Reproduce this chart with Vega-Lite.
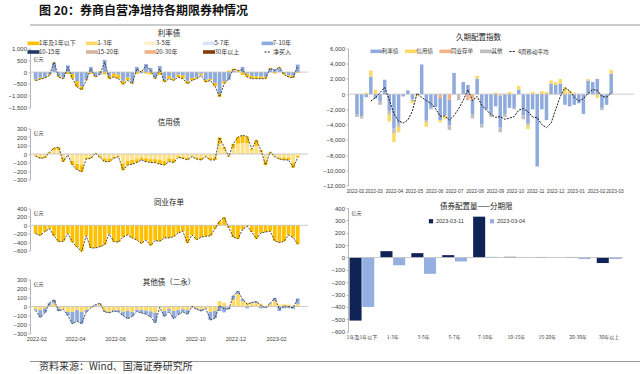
{
"$schema": "https://vega.github.io/schema/vega-lite/v6.json",
"background": "white",
"padding": {"left": 3, "top": 5, "right": 3, "bottom": 0},
"spacing": 3.5,
"config": {
 "font": "Noto Sans CJK SC",
 "view": {"stroke": null},
 "axis": {"labelFont": "Liberation Sans", "labelFontSize": 6, "labelColor": "#404040", "domainColor": "#a6a6a6", "domainWidth": 0.8, "tickColor": "#a6a6a6", "tickSize": 2, "tickWidth": 0.8, "grid": false, "labelPadding": 1.5, "titleFont": "Noto Sans CJK SC", "titleFontSize": 5, "titleFontWeight": "normal", "titleColor": "#404040"},
 "title": {"font": "Noto Sans CJK SC", "fontSize": 7.5, "fontWeight": "normal", "color": "#1a1a1a", "frame": "group"},
 "legend": {"labelFont": "Noto Sans CJK SC", "labelColor": "#333333", "padding": 0}
},
"datasets": {
 "w": [
  {"d":"2022-01-31","1年及1年以下":-50,"7-10年":-310,"rn":-360,"c1":-10,"c3":-15,"cn":-25,"n":-200,"oy":-30,"ob":-14,"on":-44},
  {"d":"2022-02-07","1年及1年以下":-60,"7-10年":-240,"rn":-300,"c1":-20,"c3":-30,"cn":-50,"n":-240,"oy":-40,"ob":-80,"on":-120},
  {"d":"2022-02-14","1年及1年以下":-40,"7-10年":-210,"rn":-250,"c1":-20,"c3":-25,"cn":-45,"n":-150,"oy":-20,"ob":-50,"on":-70},
  {"d":"2022-02-21","1年及1年以下":-50,"7-10年":-90,"rn":-140,"c1":10,"c3":10,"cn":20,"n":-80,"oy":10,"ob":30,"on":40},
  {"d":"2022-02-28","1年及1年以下":30,"7-10年":390,"rn":420,"c1":30,"c3":40,"cn":70,"n":-250,"oy":35,"ob":40,"on":75},
  {"d":"2022-03-07","1年及1年以下":-60,"7-10年":-150,"rn":-210,"c1":30,"c3":50,"cn":80,"n":-390,"oy":-20,"ob":-30,"on":-50},
  {"d":"2022-03-14","1年及1年以下":-50,"7-10年":-230,"rn":-280,"c1":-40,"c3":-50,"cn":-90,"n":-380,"oy":-30,"ob":0,"on":-30},
  {"d":"2022-03-21","1年及1年以下":-80,"7-10年":290,"rn":210,"c1":0,"c3":-10,"cn":-10,"n":-200,"oy":-60,"ob":-40,"on":-100},
  {"d":"2022-03-28","1年及1年以下":-200,"7-10年":-80,"rn":-280,"c1":-50,"c3":-80,"cn":-130,"n":-400,"oy":-60,"ob":-130,"on":-190},
  {"d":"2022-04-04","1年及1年以下":-250,"7-10年":-380,"rn":-630,"c1":-70,"c3":-115,"cn":-185,"n":-520,"oy":-40,"ob":-125,"on":-165},
  {"d":"2022-04-11","1年及1年以下":-150,"7-10年":-600,"rn":-750,"c1":-80,"c3":-130,"cn":-210,"n":-620,"oy":-60,"ob":-130,"on":-190},
  {"d":"2022-04-18","1年及1年以下":-40,"7-10年":-310,"rn":-350,"c1":-20,"c3":-40,"cn":-60,"n":-250,"oy":-40,"ob":-20,"on":-60},
  {"d":"2022-04-25","1年及1年以下":-80,"7-10年":220,"rn":140,"c1":-20,"c3":-30,"cn":-50,"n":-540,"oy":-15,"ob":0,"on":-15},
  {"d":"2022-05-02","1年及1年以下":-60,"7-10年":-150,"rn":-210,"c1":0,"c3":10,"cn":10,"n":-540,"oy":10,"ob":10,"on":20},
  {"d":"2022-05-09","1年及1年以下":40,"7-10年":-110,"rn":-70,"c1":-20,"c3":-20,"cn":-40,"n":-510,"oy":25,"ob":10,"on":35},
  {"d":"2022-05-16","1年及1年以下":-100,"7-10年":520,"rn":420,"c1":-40,"c3":-50,"cn":-90,"n":-460,"oy":-50,"ob":-10,"on":-60},
  {"d":"2022-05-23","1年及1年以下":-120,"7-10年":-160,"rn":-280,"c1":-40,"c3":-50,"cn":-90,"n":-210,"oy":-60,"ob":-10,"on":-70},
  {"d":"2022-05-30","1年及1年以下":-150,"7-10年":-60,"rn":-210,"c1":-20,"c3":-30,"cn":-50,"n":-390,"oy":-40,"ob":-12,"on":-52},
  {"d":"2022-06-06","1年及1年以下":-180,"7-10年":-100,"rn":-280,"c1":-10,"c3":-20,"cn":-30,"n":-400,"oy":-40,"ob":-20,"on":-60},
  {"d":"2022-06-13","1年及1年以下":-150,"7-10年":-370,"rn":-520,"c1":-80,"c3":-110,"cn":-190,"n":-280,"oy":-60,"ob":-40,"on":-100},
  {"d":"2022-06-20","1年及1年以下":-120,"7-10年":-230,"rn":-350,"c1":-50,"c3":-80,"cn":-130,"n":-230,"oy":-50,"ob":-85,"on":-135},
  {"d":"2022-06-27","1年及1年以下":-60,"7-10年":-430,"rn":-490,"c1":-50,"c3":-70,"cn":-120,"n":-300,"oy":-60,"ob":-50,"on":-110},
  {"d":"2022-07-04","1年及1年以下":-80,"7-10年":220,"rn":140,"c1":-40,"c3":-60,"cn":-100,"n":-350,"oy":-35,"ob":-20,"on":-55},
  {"d":"2022-07-11","1年及1年以下":50,"7-10年":-50,"rn":0,"c1":-30,"c3":-40,"cn":-70,"n":-430,"oy":-40,"ob":-32,"on":-72},
  {"d":"2022-07-18","1年及1年以下":-60,"7-10年":340,"rn":280,"c1":-40,"c3":-50,"cn":-90,"n":-350,"oy":-45,"ob":-40,"on":-85},
  {"d":"2022-07-25","1年及1年以下":-100,"7-10年":170,"rn":70,"c1":-40,"c3":-60,"cn":-100,"n":-480,"oy":-55,"ob":-60,"on":-115},
  {"d":"2022-08-01","1年及1年以下":-40,"7-10年":-240,"rn":-280,"c1":-40,"c3":-60,"cn":-100,"n":-360,"oy":-70,"ob":-110,"on":-180},
  {"d":"2022-08-08","1年及1年以下":-120,"7-10年":260,"rn":140,"c1":-50,"c3":-70,"cn":-120,"n":-380,"oy":-10,"ob":0,"on":-10},
  {"d":"2022-08-15","1年及1年以下":-100,"7-10年":-320,"rn":-420,"c1":-50,"c3":-80,"cn":-130,"n":-300,"oy":-50,"ob":-60,"on":-110},
  {"d":"2022-08-22","1年及1年以下":-120,"7-10年":-160,"rn":-280,"c1":-40,"c3":-50,"cn":-90,"n":-300,"oy":-30,"ob":-25,"on":-55},
  {"d":"2022-08-29","1年及1年以下":-80,"7-10年":-270,"rn":-350,"c1":-40,"c3":-60,"cn":-100,"n":-270,"oy":-50,"ob":-83,"on":-133},
  {"d":"2022-09-05","1年及1年以下":-100,"7-10年":-110,"rn":-210,"c1":-20,"c3":-20,"cn":-40,"n":-180,"oy":-40,"ob":-50,"on":-90},
  {"d":"2022-09-12","1年及1年以下":-150,"7-10年":-130,"rn":-280,"c1":-20,"c3":-30,"cn":-50,"n":-140,"oy":-30,"ob":-30,"on":-60},
  {"d":"2022-09-19","1年及1年以下":-120,"7-10年":-370,"rn":-490,"c1":-30,"c3":-40,"cn":-70,"n":-420,"oy":-40,"ob":-45,"on":-85},
  {"d":"2022-09-26","1年及1年以下":-100,"7-10年":-250,"rn":-350,"c1":-10,"c3":-20,"cn":-30,"n":-230,"oy":10,"ob":-10,"on":0},
  {"d":"2022-10-03","1年及1年以下":-60,"7-10年":-220,"rn":-280,"c1":-20,"c3":-40,"cn":-60,"n":-340,"oy":-20,"ob":-10,"on":-30},
  {"d":"2022-10-10","1年及1年以下":-80,"7-10年":-60,"rn":-140,"c1":-30,"c3":-40,"cn":-70,"n":-280,"oy":-30,"ob":-20,"on":-50},
  {"d":"2022-10-17","1年及1年以下":-100,"7-10年":-320,"rn":-420,"c1":-10,"c3":-20,"cn":-30,"n":-260,"oy":-20,"ob":0,"on":-20},
  {"d":"2022-10-24","1年及1年以下":-60,"7-10年":-290,"rn":-350,"c1":-30,"c3":-40,"cn":-70,"n":-250,"oy":-60,"ob":-90,"on":-150},
  {"d":"2022-10-31","1年及1年以下":-150,"7-10年":-450,"rn":-600,"c1":-30,"c3":-40,"cn":-70,"n":-80,"oy":-50,"ob":-80,"on":-130},
  {"d":"2022-11-07","1年及1年以下":-120,"7-10年":-930,"rn":-1050,"c1":80,"c3":115,"cn":195,"n":100,"oy":60,"ob":-50,"on":10},
  {"d":"2022-11-14","1年及1年以下":-100,"7-10年":-390,"rn":-490,"c1":30,"c3":50,"cn":80,"n":190,"oy":40,"ob":-65,"on":-25},
  {"d":"2022-11-21","1年及1年以下":60,"7-10年":-340,"rn":-280,"c1":-10,"c3":-20,"cn":-30,"n":-60,"oy":-10,"ob":-20,"on":-30},
  {"d":"2022-11-28","1年及1年以下":80,"7-10年":60,"rn":140,"c1":50,"c3":70,"cn":120,"n":-280,"oy":80,"ob":40,"on":120},
  {"d":"2022-12-05","1年及1年以下":60,"7-10年":10,"rn":70,"c1":80,"c3":120,"cn":200,"n":-320,"oy":140,"ob":30,"on":170},
  {"d":"2022-12-12","1年及1年以下":-120,"7-10年":220,"rn":100,"c1":90,"c3":130,"cn":220,"n":-100,"oy":60,"ob":20,"on":80},
  {"d":"2022-12-19","1年及1年以下":-150,"7-10年":-60,"rn":-210,"c1":80,"c3":125,"cn":205,"n":-20,"oy":45,"ob":-20,"on":25},
  {"d":"2022-12-26","1年及1年以下":-120,"7-10年":-160,"rn":-280,"c1":20,"c3":40,"cn":60,"n":-160,"oy":35,"ob":10,"on":45},
  {"d":"2023-01-02","1年及1年以下":-100,"7-10年":-180,"rn":-280,"c1":70,"c3":95,"cn":165,"n":-320,"oy":40,"ob":15,"on":55},
  {"d":"2023-01-09","1年及1年以下":-100,"7-10年":-180,"rn":-280,"c1":20,"c3":25,"cn":45,"n":-180,"oy":30,"ob":-20,"on":10},
  {"d":"2023-01-16","1年及1年以下":-80,"7-10年":-200,"rn":-280,"c1":-50,"c3":-80,"cn":-130,"n":-160,"oy":-5,"ob":-10,"on":-15},
  {"d":"2023-01-23","1年及1年以下":40,"7-10年":130,"rn":170,"c1":10,"c3":15,"cn":25,"n":-140,"oy":25,"ob":10,"on":35},
  {"d":"2023-01-30","1年及1年以下":-60,"7-10年":130,"rn":70,"c1":-10,"c3":-20,"cn":-30,"n":-370,"oy":60,"ob":35,"on":95},
  {"d":"2023-02-06","1年及1年以下":50,"7-10年":160,"rn":210,"c1":-20,"c3":-40,"cn":-60,"n":-410,"oy":20,"ob":-50,"on":-30},
  {"d":"2023-02-13","1年及1年以下":-60,"7-10年":-40,"rn":-100,"c1":-30,"c3":-40,"cn":-70,"n":-380,"oy":25,"ob":-20,"on":5},
  {"d":"2023-02-20","1年及1年以下":-80,"7-10年":-130,"rn":-210,"c1":-30,"c3":-40,"cn":-70,"n":-230,"oy":20,"ob":-20,"on":0},
  {"d":"2023-02-27","1年及1年以下":-80,"7-10年":-160,"rn":-240,"c1":-60,"c3":-100,"cn":-160,"n":-290,"oy":10,"ob":-25,"on":-15},
  {"d":"2023-03-06","1年及1年以下":-40,"7-10年":320,"rn":280,"c1":-20,"c3":-20,"cn":-40,"n":-450,"oy":30,"ob":60,"on":90}
 ],
 "dur": [
  {"d":"2022-02-04","利率债":-2700,"其他":-300},
  {"d":"2022-02-11","利率债":-2900,"其他":-300},
  {"d":"2022-02-18","利率债":-400,"信用债":200},
  {"d":"2022-02-25","利率债":2300,"信用债":800,"ma":-900},
  {"d":"2022-03-04","利率债":-600,"信用债":600,"ma":-450},
  {"d":"2022-03-11","利率债":-1000,"其他":-400,"ma":200},
  {"d":"2022-03-18","利率债":1900,"ma":900},
  {"d":"2022-03-25","利率债":-2200,"信用债":-900,"其他":-500,"ma":-800},
  {"d":"2022-04-01","利率债":-4500,"信用债":-1200,"其他":-600,"ma":-2600},
  {"d":"2022-04-08","利率债":-3800,"信用债":-700,"其他":-500,"ma":-3500},
  {"d":"2022-04-15","利率债":-300,"ma":-3800},
  {"d":"2022-04-22","利率债":500,"ma":-3400},
  {"d":"2022-04-29","利率债":-700,"信用债":-300,"其他":-200,"ma":-2200},
  {"d":"2022-05-06","利率债":-100,"信用债":-200,"ma":100},
  {"d":"2022-05-13","利率债":3900,"ma":-400},
  {"d":"2022-05-20","利率债":-3400,"信用债":-600,"其他":-300,"ma":-850},
  {"d":"2022-05-27","利率债":-1800,"其他":-200,"ma":-1200},
  {"d":"2022-06-03","利率债":-1700,"ma":-1900},
  {"d":"2022-06-10","利率债":-2900,"信用债":-300,"同业存单":-500,"ma":-2900},
  {"d":"2022-06-17","利率债":-2800,"信用债":-500,"ma":-2850},
  {"d":"2022-06-24","利率债":-3400,"同业存单":-700,"其他":-600,"ma":-3400},
  {"d":"2022-07-01","利率债":2800,"ma":-2800},
  {"d":"2022-07-08","其他":-800,"ma":-1900},
  {"d":"2022-07-15","利率债":1600,"ma":-800},
  {"d":"2022-07-22","利率债":1200,"同业存单":-800,"ma":600},
  {"d":"2022-07-29","利率债":-1900,"同业存单":-700,"其他":-600,"ma":-850},
  {"d":"2022-08-05","利率债":2000,"信用债":400,"ma":-300},
  {"d":"2022-08-12","利率债":-4000,"其他":-400,"ma":-1450},
  {"d":"2022-08-19","利率债":-2000,"ma":-2100},
  {"d":"2022-08-26","利率债":-2600,"其他":-400,"ma":-2650},
  {"d":"2022-09-02","利率债":-1600,"信用债":200,"ma":-3050},
  {"d":"2022-09-09","利率债":-4200,"同业存单":-200,"其他":-600,"ma":-2950},
  {"d":"2022-09-16","利率债":-2600,"其他":-400,"ma":-3300},
  {"d":"2022-09-23","利率债":-1800,"信用债":300,"ma":-3150},
  {"d":"2022-09-30","利率债":-1800,"其他":-200,"ma":-2950},
  {"d":"2022-10-07","利率债":600,"信用债":500,"ma":-2100},
  {"d":"2022-10-14","利率债":-2800,"其他":-500,"ma":-1900},
  {"d":"2022-10-21","利率债":-3800,"信用债":-500,"其他":-300,"ma":-2300},
  {"d":"2022-10-28","利率债":-2000,"信用债":300,"ma":-3000},
  {"d":"2022-11-04","利率债":-9500,"ma":-3100},
  {"d":"2022-11-11","利率债":-2000,"信用债":400,"ma":-4000},
  {"d":"2022-11-18","利率债":-3400,"信用债":300,"ma":-4400},
  {"d":"2022-11-25","利率债":1400,"信用债":400,"ma":-3800},
  {"d":"2022-12-02","利率债":1200,"信用债":400,"ma":-2000},
  {"d":"2022-12-09","利率债":1400,"信用债":600,"ma":-300},
  {"d":"2022-12-16","利率债":-1400,"信用债":900,"ma":850},
  {"d":"2022-12-23","利率债":-1600,"信用债":500,"ma":450},
  {"d":"2022-12-30","利率债":-1400,"信用债":200,"ma":-400},
  {"d":"2023-01-06","利率债":-1200,"ma":-900},
  {"d":"2023-01-13","利率债":-2600,"ma":-600},
  {"d":"2023-01-20","利率债":1800,"信用债":200,"ma":100},
  {"d":"2023-01-27","利率债":1600,"ma":600},
  {"d":"2023-02-03","利率债":2000,"信用债":-500,"ma":500},
  {"d":"2023-02-10","利率债":-1800,"其他":-300,"ma":-300},
  {"d":"2023-02-17","利率债":-1400,"ma":-400},
  {"d":"2023-02-24","利率债":2700,"信用债":500,"ma":200}
 ],
 "tenor": [
  {"c":"1年及1年以下","t":"2023-03-11","v":-510},{"c":"1年及1年以下","t":"2023-03-04","v":-400},
  {"c":"1-3年","t":"2023-03-11","v":51},{"c":"1-3年","t":"2023-03-04","v":-62},
  {"c":"3-5年","t":"2023-03-11","v":35},{"c":"3-5年","t":"2023-03-04","v":-132},
  {"c":"5-7年","t":"2023-03-11","v":19},{"c":"5-7年","t":"2023-03-04","v":-32},
  {"c":"7-10年","t":"2023-03-11","v":330},{"c":"7-10年","t":"2023-03-04","v":5},
  {"c":"10-15年","t":"2023-03-11","v":5},{"c":"10-15年","t":"2023-03-04","v":2},
  {"c":"15-20年","t":"2023-03-11","v":-3},{"c":"15-20年","t":"2023-03-04","v":-1},
  {"c":"20-30年","t":"2023-03-11","v":3},{"c":"20-30年","t":"2023-03-04","v":-12},
  {"c":"30年以上","t":"2023-03-11","v":-45},{"c":"30年以上","t":"2023-03-04","v":-12}
 ]
},
"vconcat": [
 {
  "width": 634, "height": 1,
  "title": {"text": "图 20：券商自营净增持各期限券种情况", "anchor": "start", "frame": "group", "fontSize": 12, "fontWeight": "bold", "color": "#111111", "offset": 6, "dx": 9},
  "data": {"values": [{"v": 0}]},
  "mark": {"type": "rule", "color": "#7f7f7f", "strokeWidth": 0.8},
  "encoding": {"y": {"field": "v", "type": "quantitative", "axis": null, "scale": {"domain": [0, 1]}}}
 },
 {
  "hconcat": [
   {
    "vconcat": [
     {
      "width": 278, "height": 59,
      "title": {"text": "利率债", "offset": 2.5},
      "layer": [
       {
        "data": {"name": "w"},
        "transform": [{"fold": ["1年及1年以下", "7-10年"], "as": ["k", "v"]}],
        "mark": {"type": "bar", "size": 3.8},
        "encoding": {
         "x": {"field": "d", "type": "temporal", "title": null, "scale": {"type": "utc", "domain": [{"year": 2022, "month": 1, "date": 30, "utc": true}, {"year": 2023, "month": 3, "date": 14, "utc": true}]}, "axis": {"labels": false, "ticks": false, "domain": false, "minExtent": 10.25, "maxExtent": 10.25}},
         "y": {"field": "v", "type": "quantitative", "title": "亿元", "scale": {"domain": [-1500, 1000]}, "axis": {"values": [-1500, -1000, -500, 0, 500, 1000], "format": ",.0f", "titleAngle": 0, "titleAlign": "left", "titleBaseline": "top", "titleX": 3, "titleY": 8, "minExtent": 27, "maxExtent": 27, "labelOverlap": false}},
         "color": {"field": "k", "type": "nominal",
          "scale": {"domain": ["1年及1年以下", "1-3年", "3-5年", "5-7年", "7-10年", "10-15年", "15-20年", "20-30年", "30年以上", "净买入"], "range": ["#FFC000", "#FFD966", "#FFF2CC", "#DAE3F3", "#8FAADC", "#1F3864", "#D8B49C", "#F4B183", "#843C0C", "#222222"]},
          "legend": {"orient": "none", "legendX": 0, "legendY": -9, "direction": "horizontal", "columns": 5, "gridAlign": "all", "columnPadding": 7.5, "rowPadding": 0, "symbolType": "M-2,-0.6H2V0.6H-2Z", "symbolSize": 36, "labelFontSize": 6, "labelOffset": 2, "labelLimit": 200, "title": null,
           "encode": {"symbols": {"update": {"shape": {"signal": "datum.value === '净买入' ? 'stroke' : 'M-2,-0.6H2V0.6H-2Z'"}, "stroke": {"signal": "datum.value === '净买入' ? '#222222' : 'transparent'"}, "strokeDash": {"signal": "datum.value === '净买入' ? [2, 1.2] : [1, 0]"}, "strokeWidth": {"value": 1}}}}}}
        }
       },
       {"data": {"values": [{}]}, "mark": {"type": "rule", "color": "#bfbfbf", "strokeWidth": 0.8}, "encoding": {"y": {"datum": 0, "type": "quantitative", "title": "亿元", "scale": {"domain": [-1500, 1000]}, "axis": {"values": [-1500, -1000, -500, 0, 500, 1000], "format": ",.0f", "titleAngle": 0, "titleAlign": "left", "titleBaseline": "top", "titleX": 3, "titleY": 8, "minExtent": 27, "maxExtent": 27, "labelOverlap": false}}}},
       {"data": {"name": "w"}, "mark": {"type": "line", "color": "#333333", "strokeWidth": 0.9, "strokeDash": [2, 1.2]}, "encoding": {
         "x": {"field": "d", "type": "temporal", "title": null, "scale": {"type": "utc", "domain": [{"year": 2022, "month": 1, "date": 30, "utc": true}, {"year": 2023, "month": 3, "date": 14, "utc": true}]}, "axis": {"labels": false, "ticks": false, "domain": false, "minExtent": 10.25, "maxExtent": 10.25}},
         "y": {"field": "rn", "type": "quantitative", "title": "亿元", "scale": {"domain": [-1500, 1000]}, "axis": {"values": [-1500, -1000, -500, 0, 500, 1000], "format": ",.0f", "titleAngle": 0, "titleAlign": "left", "titleBaseline": "top", "titleX": 3, "titleY": 8, "minExtent": 27, "maxExtent": 27, "labelOverlap": false}}}}
      ]
     },
     {
      "width": 278, "height": 51,
      "title": {"text": "信用债", "offset": -0.75},
      "layer": [
       {
        "data": {"name": "w"},
        "transform": [{"fold": ["c1", "c3"], "as": ["k", "v"]}],
        "mark": {"type": "bar", "size": 3.8},
        "encoding": {
         "x": {"field": "d", "type": "temporal", "title": null, "scale": {"type": "utc", "domain": [{"year": 2022, "month": 1, "date": 30, "utc": true}, {"year": 2023, "month": 3, "date": 14, "utc": true}]}, "axis": {"labels": false, "ticks": false, "domain": false, "minExtent": 18.25, "maxExtent": 18.25}},
         "y": {"field": "v", "type": "quantitative", "title": "亿元", "scale": {"domain": [-300, 300]}, "axis": {"values": [-300, -200, -100, 0, 100, 200, 300], "format": ",.0f", "titleAngle": 0, "titleAlign": "left", "titleBaseline": "top", "titleX": 3, "titleY": 1.5, "minExtent": 27, "maxExtent": 27, "labelOverlap": false}},
         "color": {"field": "k", "type": "nominal", "scale": {"domain": ["c1", "c3"], "range": ["#FFC000", "#FFE38A"]}, "legend": null}
        }
       },
       {"data": {"values": [{}]}, "mark": {"type": "rule", "color": "#bfbfbf", "strokeWidth": 0.8}, "encoding": {"y": {"datum": 0, "type": "quantitative", "title": "亿元", "scale": {"domain": [-300, 300]}, "axis": {"values": [-300, -200, -100, 0, 100, 200, 300], "format": ",.0f", "titleAngle": 0, "titleAlign": "left", "titleBaseline": "top", "titleX": 3, "titleY": 1.5, "minExtent": 27, "maxExtent": 27, "labelOverlap": false}}}},
       {"data": {"name": "w"}, "mark": {"type": "line", "color": "#333333", "strokeWidth": 0.9, "strokeDash": [2, 1.2]}, "encoding": {
         "x": {"field": "d", "type": "temporal", "title": null, "scale": {"type": "utc", "domain": [{"year": 2022, "month": 1, "date": 30, "utc": true}, {"year": 2023, "month": 3, "date": 14, "utc": true}]}, "axis": {"labels": false, "ticks": false, "domain": false, "minExtent": 18.25, "maxExtent": 18.25}},
         "y": {"field": "cn", "type": "quantitative", "title": "亿元", "scale": {"domain": [-300, 300]}, "axis": {"values": [-300, -200, -100, 0, 100, 200, 300], "format": ",.0f", "titleAngle": 0, "titleAlign": "left", "titleBaseline": "top", "titleX": 3, "titleY": 1.5, "minExtent": 27, "maxExtent": 27, "labelOverlap": false}}}}
      ]
     },
     {
      "width": 278, "height": 42,
      "title": {"text": "同业存单", "offset": -0.75},
      "layer": [
       {
        "data": {"name": "w"},
        "mark": {"type": "bar", "size": 3.8, "color": "#FFC000"},
        "encoding": {
         "x": {"field": "d", "type": "temporal", "title": null, "scale": {"type": "utc", "domain": [{"year": 2022, "month": 1, "date": 30, "utc": true}, {"year": 2023, "month": 3, "date": 14, "utc": true}]}, "axis": {"labels": false, "ticks": false, "domain": false, "minExtent": 25.25, "maxExtent": 25.25}},
         "y": {"field": "n", "type": "quantitative", "title": "亿元", "scale": {"domain": [-600, 400]}, "axis": {"values": [-600, -400, -200, 0, 200, 400], "format": ",.0f", "titleAngle": 0, "titleAlign": "left", "titleBaseline": "top", "titleX": 3, "titleY": 1.5, "minExtent": 27, "maxExtent": 27, "labelOverlap": false}}
        }
       },
       {"data": {"values": [{}]}, "mark": {"type": "rule", "color": "#bfbfbf", "strokeWidth": 0.8}, "encoding": {"y": {"datum": 0, "type": "quantitative", "title": "亿元", "scale": {"domain": [-600, 400]}, "axis": {"values": [-600, -400, -200, 0, 200, 400], "format": ",.0f", "titleAngle": 0, "titleAlign": "left", "titleBaseline": "top", "titleX": 3, "titleY": 1.5, "minExtent": 27, "maxExtent": 27, "labelOverlap": false}}}},
       {"data": {"name": "w"}, "mark": {"type": "line", "color": "#333333", "strokeWidth": 0.9, "strokeDash": [2, 1.2]}, "encoding": {
         "x": {"field": "d", "type": "temporal", "title": null, "scale": {"type": "utc", "domain": [{"year": 2022, "month": 1, "date": 30, "utc": true}, {"year": 2023, "month": 3, "date": 14, "utc": true}]}, "axis": {"labels": false, "ticks": false, "domain": false, "minExtent": 25.25, "maxExtent": 25.25}},
         "y": {"field": "n", "type": "quantitative", "title": "亿元", "scale": {"domain": [-600, 400]}, "axis": {"values": [-600, -400, -200, 0, 200, 400], "format": ",.0f", "titleAngle": 0, "titleAlign": "left", "titleBaseline": "top", "titleX": 3, "titleY": 1.5, "minExtent": 27, "maxExtent": 27, "labelOverlap": false}}}}
      ]
     },
     {
      "width": 278, "height": 54,
      "title": {"text": "其他债（二永）", "offset": -10},
      "layer": [
       {
        "data": {"name": "w"},
        "transform": [{"fold": ["oy", "ob"], "as": ["k", "v"]}],
        "mark": {"type": "bar", "size": 3.8},
        "encoding": {
         "x": {"field": "d", "type": "temporal", "title": null, "scale": {"type": "utc", "domain": [{"year": 2022, "month": 1, "date": 30, "utc": true}, {"year": 2023, "month": 3, "date": 14, "utc": true}]},
          "axis": {"values": [{"year": 2022, "month": 2, "date": 1, "utc": true}, {"year": 2022, "month": 4, "date": 1, "utc": true}, {"year": 2022, "month": 6, "date": 1, "utc": true}, {"year": 2022, "month": 8, "date": 1, "utc": true}, {"year": 2022, "month": 10, "date": 1, "utc": true}, {"year": 2022, "month": 12, "date": 1, "utc": true}, {"year": 2023, "month": 2, "date": 1, "utc": true}], "labelExpr": "utcFormat(datum.value, '%Y-%m')", "labelFontSize": 5.5, "domain": false, "ticks": false, "labelPadding": 3, "labelOverlap": false}},
         "y": {"field": "v", "type": "quantitative", "title": "亿元", "scale": {"domain": [-300, 300]}, "axis": {"values": [-300, -200, -100, 0, 100, 200, 300], "format": ",.0f", "titleAngle": 0, "titleAlign": "left", "titleBaseline": "top", "titleX": 3, "titleY": 1.5, "minExtent": 27, "maxExtent": 27, "labelOverlap": false}},
         "color": {"field": "k", "type": "nominal", "scale": {"domain": ["oy", "ob"], "range": ["#FFD966", "#8FAADC"]}, "legend": null}
        }
       },
       {"data": {"values": [{}]}, "mark": {"type": "rule", "color": "#bfbfbf", "strokeWidth": 0.8}, "encoding": {"y": {"datum": 0, "type": "quantitative", "title": "亿元", "scale": {"domain": [-300, 300]}, "axis": {"values": [-300, -200, -100, 0, 100, 200, 300], "format": ",.0f", "titleAngle": 0, "titleAlign": "left", "titleBaseline": "top", "titleX": 3, "titleY": 1.5, "minExtent": 27, "maxExtent": 27, "labelOverlap": false}}}},
       {"data": {"name": "w"}, "mark": {"type": "line", "color": "#333333", "strokeWidth": 0.9, "strokeDash": [2, 1.2]}, "encoding": {
         "x": {"field": "d", "type": "temporal", "title": null, "scale": {"type": "utc", "domain": [{"year": 2022, "month": 1, "date": 30, "utc": true}, {"year": 2023, "month": 3, "date": 14, "utc": true}]},
          "axis": {"values": [{"year": 2022, "month": 2, "date": 1, "utc": true}, {"year": 2022, "month": 4, "date": 1, "utc": true}, {"year": 2022, "month": 6, "date": 1, "utc": true}, {"year": 2022, "month": 8, "date": 1, "utc": true}, {"year": 2022, "month": 10, "date": 1, "utc": true}, {"year": 2022, "month": 12, "date": 1, "utc": true}, {"year": 2023, "month": 2, "date": 1, "utc": true}], "labelExpr": "utcFormat(datum.value, '%Y-%m')", "labelFontSize": 5.5, "domain": false, "ticks": false, "labelPadding": 3, "labelOverlap": false}},
         "y": {"field": "on", "type": "quantitative", "title": "亿元", "scale": {"domain": [-300, 300]}, "axis": {"values": [-300, -200, -100, 0, 100, 200, 300], "format": ",.0f", "titleAngle": 0, "titleAlign": "left", "titleBaseline": "top", "titleX": 3, "titleY": 1.5, "minExtent": 27, "maxExtent": 27, "labelOverlap": false}}}}
      ]
     }
    ],
    "spacing": 0,
    "resolve": {"scale": {"x": "independent", "y": "independent", "color": "independent"}, "legend": {"color": "independent"}}
   },
   {
    "vconcat": [
     {
      "width": 286, "height": 137,
      "title": {"text": "久期配置指数", "offset": 4, "frame": "bounds"},
      "layer": [
       {
        "data": {"name": "dur"},
        "transform": [{"fold": ["利率债", "信用债", "同业存单", "其他"], "as": ["k", "v"]}, {"filter": "isValid(datum.v)"}],
        "mark": {"type": "bar", "size": 3.5},
        "encoding": {
         "x": {"field": "d", "type": "temporal", "title": null, "scale": {"type": "utc", "domain": [{"year": 2022, "month": 1, "date": 29, "utc": true}, {"year": 2023, "month": 3, "date": 23, "utc": true}]},
          "axis": {"values": [{"year": 2022, "month": 2, "date": 1, "utc": true}, {"year": 2022, "month": 3, "date": 1, "utc": true}, {"year": 2022, "month": 4, "date": 1, "utc": true}, {"year": 2022, "month": 5, "date": 1, "utc": true}, {"year": 2022, "month": 6, "date": 1, "utc": true}, {"year": 2022, "month": 7, "date": 1, "utc": true}, {"year": 2022, "month": 8, "date": 1, "utc": true}, {"year": 2022, "month": 9, "date": 1, "utc": true}, {"year": 2022, "month": 10, "date": 1, "utc": true}, {"year": 2022, "month": 11, "date": 1, "utc": true}, {"year": 2022, "month": 12, "date": 1, "utc": true}, {"year": 2023, "month": 1, "date": 1, "utc": true}, {"year": 2023, "month": 2, "date": 1, "utc": true}, {"year": 2023, "month": 3, "date": 1, "utc": true}], "labelExpr": "utcFormat(datum.value, '%Y-%m')", "labelFontSize": 4.8, "domain": false, "ticks": false, "labelPadding": 3, "labelOverlap": false}},
         "y": {"field": "v", "type": "quantitative", "title": null, "scale": {"domain": [-12000, 6000]}, "axis": {"values": [-12000, -10000, -8000, -6000, -4000, -2000, 0, 2000, 4000, 6000], "format": ",.0f", "minExtent": 23, "maxExtent": 23, "labelOverlap": false}},
         "color": {"field": "k", "type": "nominal",
          "scale": {"domain": ["利率债", "信用债", "同业存单", "其他", "4周移动平均"], "range": ["#8FAADC", "#FFD966", "#F4B183", "#BFBFBF", "#1a1a1a"]},
          "legend": {"orient": "none", "legendX": 25, "legendY": -1, "direction": "horizontal", "columnPadding": 3.5, "symbolType": "M-2,-0.6H2V0.6H-2Z", "symbolSize": 36, "labelFontSize": 5.5, "labelOffset": 2, "labelLimit": 200, "title": null,
           "encode": {"symbols": {"update": {"shape": {"signal": "datum.value === '4周移动平均' ? 'stroke' : 'M-2,-0.6H2V0.6H-2Z'"}, "stroke": {"signal": "datum.value === '4周移动平均' ? '#1a1a1a' : 'transparent'"}, "strokeDash": {"signal": "datum.value === '4周移动平均' ? [2, 1.2] : [1, 0]"}, "strokeWidth": {"value": 1}}}}}}
        }
       },
       {"data": {"values": [{}]}, "mark": {"type": "rule", "color": "#bfbfbf", "strokeWidth": 0.8}, "encoding": {"y": {"datum": 0, "type": "quantitative", "title": null, "scale": {"domain": [-12000, 6000]}, "axis": {"values": [-12000, -10000, -8000, -6000, -4000, -2000, 0, 2000, 4000, 6000], "format": ",.0f", "minExtent": 23, "maxExtent": 23, "labelOverlap": false}}}},
       {"data": {"name": "dur"}, "transform": [{"filter": "isValid(datum.ma)"}], "mark": {"type": "line", "color": "#1a1a1a", "strokeWidth": 1, "strokeDash": [2, 1.2]}, "encoding": {
         "x": {"field": "d", "type": "temporal", "title": null, "scale": {"type": "utc", "domain": [{"year": 2022, "month": 1, "date": 29, "utc": true}, {"year": 2023, "month": 3, "date": 23, "utc": true}]},
          "axis": {"values": [{"year": 2022, "month": 2, "date": 1, "utc": true}, {"year": 2022, "month": 3, "date": 1, "utc": true}, {"year": 2022, "month": 4, "date": 1, "utc": true}, {"year": 2022, "month": 5, "date": 1, "utc": true}, {"year": 2022, "month": 6, "date": 1, "utc": true}, {"year": 2022, "month": 7, "date": 1, "utc": true}, {"year": 2022, "month": 8, "date": 1, "utc": true}, {"year": 2022, "month": 9, "date": 1, "utc": true}, {"year": 2022, "month": 10, "date": 1, "utc": true}, {"year": 2022, "month": 11, "date": 1, "utc": true}, {"year": 2022, "month": 12, "date": 1, "utc": true}, {"year": 2023, "month": 1, "date": 1, "utc": true}, {"year": 2023, "month": 2, "date": 1, "utc": true}, {"year": 2023, "month": 3, "date": 1, "utc": true}], "labelExpr": "utcFormat(datum.value, '%Y-%m')", "labelFontSize": 4.8, "domain": false, "ticks": false, "labelPadding": 3, "labelOverlap": false}},
         "y": {"field": "ma", "type": "quantitative", "title": null, "scale": {"domain": [-12000, 6000]}, "axis": {"values": [-12000, -10000, -8000, -6000, -4000, -2000, 0, 2000, 4000, 6000], "format": ",.0f", "minExtent": 23, "maxExtent": 23, "labelOverlap": false}}}}
      ]
     },
     {
      "width": 275, "height": 123.7,
      "title": {"text": "债券配置量——分期限", "offset": -5, "frame": "bounds"},
      "layer": [
       {
        "data": {"name": "tenor"},
        "mark": {"type": "bar"},
        "encoding": {
         "x": {"field": "c", "type": "nominal", "title": null, "sort": ["1年及1年以下", "1-3年", "3-5年", "5-7年", "7-10年", "10-15年", "15-20年", "20-30年", "30年以上"], "scale": {"paddingInner": 0.2, "paddingOuter": 0.05}, "axis": {"labelAngle": 0, "labelFont": "Noto Sans CJK SC", "labelFontSize": 5, "domain": false, "ticks": false, "labelPadding": 3, "labelOverlap": false, "labelLimit": 200}},
         "xOffset": {"field": "t", "type": "nominal", "sort": ["2023-03-11", "2023-03-04"], "scale": {"paddingInner": 0.05}},
         "y": {"field": "v", "type": "quantitative", "title": "亿元", "scale": {"domain": [-600, 400]}, "axis": {"values": [-600, -500, -400, -300, -200, -100, 0, 100, 200, 300, 400], "format": ",.0f", "titleAngle": 0, "titleAlign": "left", "titleBaseline": "top", "titleX": 3, "titleY": 2, "minExtent": 19, "maxExtent": 19, "labelOverlap": false}},
         "color": {"field": "t", "type": "nominal", "scale": {"domain": ["2023-03-11", "2023-03-04"], "range": ["#0F2357", "#95AFE0"]},
          "legend": {"orient": "none", "legendX": 80, "legendY": 10, "direction": "horizontal", "symbolType": "square", "symbolSize": 18, "labelFont": "Liberation Sans", "labelFontSize": 5.5, "labelOffset": 2, "columnPadding": 25, "title": null}}
        }
       },
       {"data": {"values": [{}]}, "mark": {"type": "rule", "color": "#bfbfbf", "strokeWidth": 0.8}, "encoding": {"y": {"datum": 0, "type": "quantitative", "title": "亿元", "scale": {"domain": [-600, 400]}, "axis": {"values": [-600, -500, -400, -300, -200, -100, 0, 100, 200, 300, 400], "format": ",.0f", "titleAngle": 0, "titleAlign": "left", "titleBaseline": "top", "titleX": 3, "titleY": 2, "minExtent": 19, "maxExtent": 19, "labelOverlap": false}}}}
      ]
     }
    ],
    "spacing": 8.5,
    "resolve": {"scale": {"x": "independent", "y": "independent", "color": "independent"}, "legend": {"color": "independent"}}
   }
  ],
  "spacing": 13,
  "resolve": {"scale": {"color": "independent"}, "legend": {"color": "independent"}}
 },
 {
  "width": 634, "height": 15.5,
  "title": {"text": "资料来源：Wind、国海证券研究所", "orient": "bottom", "anchor": "start", "frame": "group", "fontSize": 10, "fontWeight": "normal", "color": "#333333", "offset": 0.5, "dx": 9},
  "data": {"values": [{"v": 0}]},
  "mark": {"type": "rule", "color": "#7f7f7f", "strokeWidth": 0.8},
  "encoding": {"y": {"field": "v", "type": "quantitative", "axis": null, "scale": {"domain": [0, 1]}}}
 }
]
}
